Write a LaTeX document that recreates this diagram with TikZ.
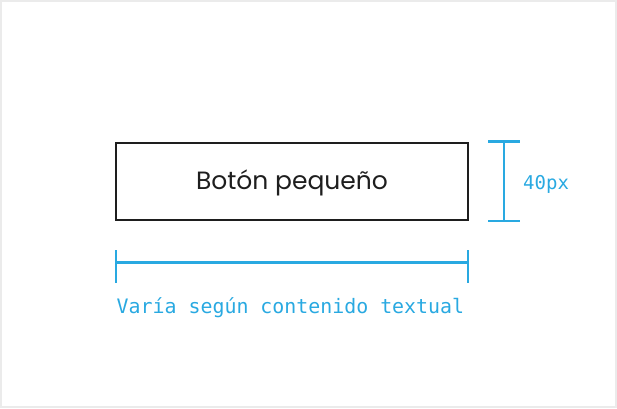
\documentclass[tikz,border=0pt]{standalone}
\usepackage{fontspec}
\setmainfont{Poppins}
\newfontfamily\dimfont{DejaVu Sans Mono}
\definecolor{dimblue}{HTML}{29A9E1}
\definecolor{boxblack}{HTML}{1E1E1E}
\definecolor{framegray}{HTML}{EBEBEB}
\begin{document}
\begin{tikzpicture}[x=1pt,y=-1pt,
  btn/.style={draw=boxblack,line width=2.2pt,minimum width=352pt,minimum height=77pt,inner sep=0pt,font=\fontsize{25}{29}\selectfont,text=boxblack},
  dimline/.style={draw=dimblue,line width=2.3pt},
  dimlabel/.style={text=dimblue,font=\dimfont\fontsize{19.9}{23}\selectfont,inner sep=0pt}]
\useasboundingbox (0,0) rectangle (617,408);
\draw[framegray,line width=1.5pt] (1,1) rectangle (616,407);
\node[btn] (button) at (292,181.5) {};
\node[font=\fontsize{25}{29}\selectfont,text=boxblack,inner sep=0pt,anchor=base] (btntext) at (292,189.5) {Botón pequeño};
% vertical dimension
\coordinate (vt) at (504,141.5);
\coordinate (vb) at (504,221);
\coordinate (vtl) at (488,141.5);
\coordinate (vtr) at (520,141.5);
\coordinate (vbl) at (488,221);
\coordinate (vbr) at (520,221);
\draw[dimline] (vt) -- (vb);
\draw[dimline] (vtl) -- (vtr);
\draw[dimline] (vbl) -- (vbr);
\node[dimlabel,anchor=west,font=\dimfont\fontsize{19}{22}\selectfont] (height) at (523,184) {40px};
% horizontal dimension
\coordinate (hl) at (116,262.5);
\coordinate (hr) at (468,262.5);
\coordinate (hlt) at (116,250);
\coordinate (hlb) at (116,283);
\coordinate (hrt) at (468,250);
\coordinate (hrb) at (468,283);
\draw[dimline] (hl) -- (hr);
\draw[dimline] (hlt) -- (hlb);
\draw[dimline] (hrt) -- (hrb);
\node[dimlabel,anchor=base west] (width) at (116.5,313) {Varía según contenido textual};
\end{tikzpicture}
\end{document}
